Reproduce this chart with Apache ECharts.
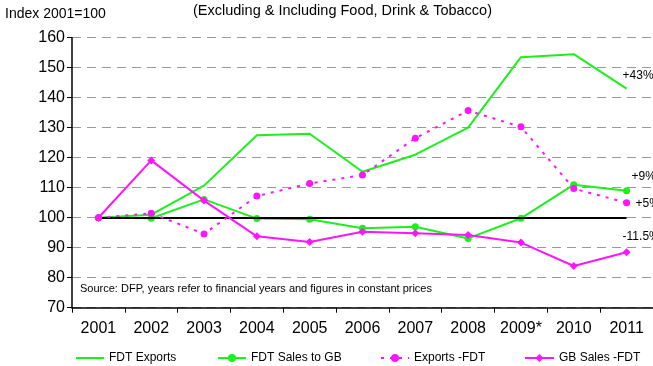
<!DOCTYPE html>
<html>
<head>
<meta charset="utf-8">
<script src="https://cdn.jsdelivr.net/npm/echarts@6/dist/echarts.min.js"></script>
<style>
  html, body { margin: 0; padding: 0; background: #fff; }
  #chart { width: 653px; height: 366px; }
</style>
</head>
<body>
<div id="chart"></div>
<script>
// Index 2001 = 100, financial years, constant prices
const years = ['2001', '2002', '2003', '2004', '2005', '2006', '2007', '2008', '2009*', '2010', '2011'];
const fdtExports      = [100, 101, 110.7, 127.5, 128, 115.3, 121, 130, 153.5, 154.5, 143];
const fdtSalesToGB    = [100, 99.8, 106.1, 99.7, 99.5, 96.5, 97, 93.1, 99.8, 111, 109];
const exportsExclFDT  = [100, 101.5, 94.6, 107.2, 111.4, 114.2, 126.5, 135.7, 130.3, 109.7, 105];
const gbSalesExclFDT  = [100, 119.1, 105.7, 93.8, 91.9, 95.3, 94.8, 94.2, 91.7, 83.9, 88.5];
const endLabels = ['+43%', '+9%', '+5%', '-11.5%'];

const GREEN = '#1cf01c';
const MAGENTA = '#ff14ff';
const FONT = 'Liberation Sans';

function endLabel(text, offset) {
  return { show: true, formatter: text, offset: offset, distance: 0,
           color: '#000', fontSize: 12, fontFamily: FONT };
}

const chart = echarts.init(document.getElementById('chart'), null, { renderer: 'canvas' });

const legendBase = {
  bottom: 2, itemHeight: 10, itemGap: 4, padding: 0,
  textStyle: { fontFamily: FONT, fontSize: 12, color: '#000' }
};

chart.setOption({
  animation: false,
  backgroundColor: '#fff',
  textStyle: { fontFamily: FONT },
  title: [
    { text: 'Index 2001=100', left: 5, top: 7, padding: 0,
      textStyle: { fontFamily: FONT, fontSize: 14, fontWeight: 'normal', color: '#000' } },
    { text: '(Excluding & Including Food, Drink & Tobacco)', left: 193, top: 3, padding: 0,
      textStyle: { fontFamily: FONT, fontSize: 14.5, fontWeight: 'normal', color: '#000' } },
    { text: 'Source: DFP, years refer to financial years and figures in constant prices', left: 80, top: 283, padding: 0,
      textStyle: { fontFamily: FONT, fontSize: 11, fontWeight: 'normal', color: '#000' } }
  ],
  legend: [
    Object.assign({}, legendBase, { left: 76, itemWidth: 28, itemHeight: 2,
      data: [{ name: 'FDT Exports', icon: 'rect', itemStyle: { color: GREEN } }] }),
    Object.assign({ left: 217, itemWidth: 28, data: ['FDT Sales to GB'] }, legendBase),
    Object.assign({ left: 380, itemWidth: 28, data: ['Exports -FDT'] }, legendBase),
    Object.assign({ left: 524, itemWidth: 29, data: ['GB Sales -FDT'] }, legendBase)
  ],
  grid: { left: 72, top: 37.7, width: 585, height: 270, containLabel: false },
  xAxis: {
    type: 'category',
    data: years,
    boundaryGap: true,
    axisLine: { onZero: false, lineStyle: { color: '#000', width: 1.5 } },
    axisTick: { show: true, length: 5, inside: false, lineStyle: { color: '#000' } },
    axisLabel: { color: '#000', fontSize: 16, fontFamily: FONT, margin: 13, interval: 0 },
    splitLine: { show: false }
  },
  yAxis: {
    type: 'value',
    min: 70, max: 160, interval: 10,
    axisLine: { show: true, lineStyle: { color: '#000', width: 1.5 } },
    axisTick: { show: true, length: 5, lineStyle: { color: '#000' } },
    axisLabel: { color: '#000', fontSize: 16, fontFamily: FONT, margin: 7 },
    splitLine: { show: true, lineStyle: { color: '#9a9a9a', type: [9, 6], width: 1 } }
  },
  series: [
    {
      name: 'FDT Exports', type: 'line',
      data: fdtExports,
      symbol: 'none',
      lineStyle: { color: GREEN, width: 2 }, itemStyle: { color: GREEN },
      endLabel: endLabel(endLabels[0], [-4, -13]),
      z: 3,
      markLine: {
        silent: true, symbol: 'none', label: { show: false },
        lineStyle: { color: '#000', type: 'solid', width: 2 },
        data: [[{ coord: [years[0], 100] }, { coord: [years[years.length - 1], 100] }]]
      }
    },
    {
      name: 'FDT Sales to GB', type: 'line',
      data: fdtSalesToGB,
      symbol: 'circle', symbolSize: 7,
      lineStyle: { color: GREEN, width: 2 }, itemStyle: { color: GREEN },
      endLabel: endLabel(endLabels[1], [5, -14]),
      z: 4
    },
    {
      name: 'Exports -FDT', type: 'line',
      data: exportsExclFDT,
      symbol: 'circle', symbolSize: 7,
      lineStyle: { color: MAGENTA, width: 2, type: [3, 6] }, itemStyle: { color: MAGENTA },
      endLabel: endLabel(endLabels[2], [9, 1]),
      z: 5
    },
    {
      name: 'GB Sales -FDT', type: 'line',
      data: gbSalesExclFDT,
      symbol: 'diamond', symbolSize: 8,
      lineStyle: { color: MAGENTA, width: 2 }, itemStyle: { color: MAGENTA },
      endLabel: endLabel(endLabels[3], [-4, -16]),
      z: 6
    }
  ]
});
</script>
</body>
</html>
